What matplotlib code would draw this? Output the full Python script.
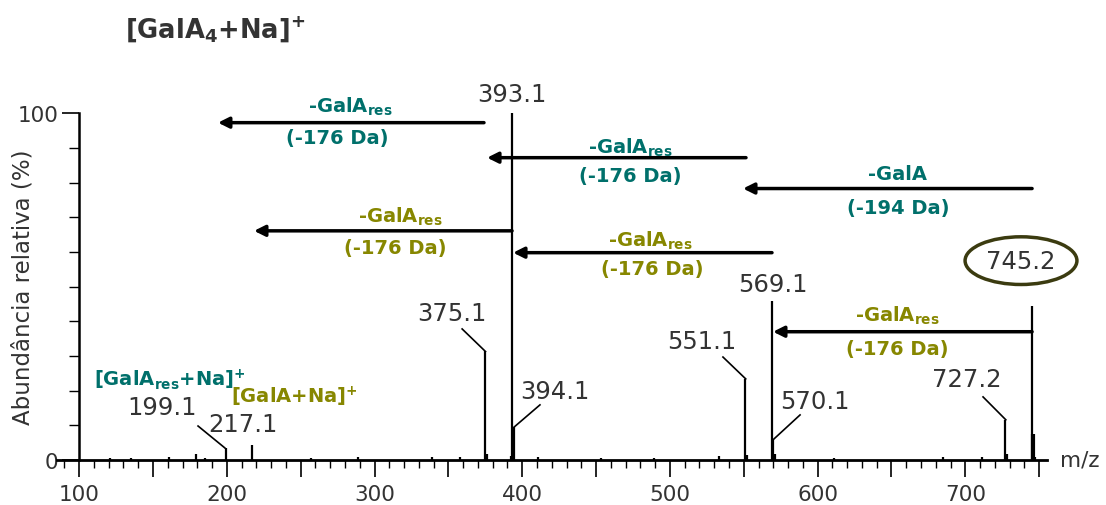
import matplotlib
matplotlib.use("Agg")
import matplotlib.pyplot as plt
from matplotlib.ticker import MultipleLocator, FuncFormatter

plt.rcParams['mathtext.fontset'] = 'dejavusans'

# main peaks (m/z, relative abundance %)
peak_mz = [199.1, 217.1, 375.1, 393.1, 394.1, 551.1, 569.1, 570.1, 727.2, 745.2]
peak_int = [3.5, 4.3, 31.3, 100.0, 9.6, 23.4, 46.0, 6.1, 11.6, 44.5]

# small baseline / isotope peaks
minor_mz = [121, 135, 161, 179, 185, 257, 289, 339, 358, 376.1, 392.1, 411, 453,
            489, 533, 552.1, 571.1, 611, 685, 711, 728.2, 745.6, 747]
minor_int = [0.5, 0.6, 0.8, 1.8, 0.7, 0.6, 0.9, 1.0, 0.9, 1.6, 1.2, 0.8, 0.7,
             0.6, 1.2, 1.4, 1.6, 0.6, 0.9, 1.0, 1.8, 7.5, 1.0]

# labelled peaks: text, label position, leader start (None = no leader), leader end
labels = [
    ("393.1", (393.1, 105.7), None, None),
    ("375.1", (352.5, 42.4), (359.3, 37.8), (375.1, 31.3)),
    ("199.1", (156.1, 15.3), (180.5, 9.8), (198.6, 3.5)),
    ("217.1", (211.0, 10.4), None, None),
    ("394.1", (422.2, 19.9), (412.0, 15.9), (394.5, 9.5)),
    ("551.1", (521.7, 34.4), (535.9, 29.7), (551.3, 23.4)),
    ("569.1", (569.8, 50.8), None, None),
    ("570.1", (598.2, 17.0), (588.1, 13.0), (570.5, 6.1)),
    ("727.2", (701.2, 23.4), (712.0, 18.2), (727.4, 11.6)),
]

# neutral loss arrows: start m/z, end m/z, height, colour, name, loss, name pos, loss pos
teal = "#00706b"
olive = "#878700"
arrows = [
    (374.1, 194.0, 97.3, teal, r"-GalA$_{\mathbf{res}}$", "(-176 Da)", (283.4, 102.2), (274.6, 93.0)),
    (551.5, 376.2, 87.2, teal, r"-GalA$_{\mathbf{res}}$", "(-176 Da)", (473.0, 90.4), (473.0, 82.0)),
    (745.2, 549.5, 78.3, teal, "-GalA", "(-194 Da)", (654.4, 82.6), (654.4, 72.8)),
    (393.1, 218.4, 66.1, olive, r"-GalA$_{\mathbf{res}}$", "(-176 Da)", (317.3, 70.5), (313.9, 61.2)),
    (569.1, 393.8, 59.8, olive, r"-GalA$_{\mathbf{res}}$", "(-176 Da)", (486.5, 63.5), (487.9, 55.2)),
    (745.2, 569.8, 37.0, olive, r"-GalA$_{\mathbf{res}}$", "(-176 Da)", (653.8, 41.9), (653.8, 32.3)),
]

grey = "#333333"

fig = plt.figure(figsize=(11.06, 5.06), dpi=100)
ax = fig.add_axes([57 / 1106, 45 / 506, 990 / 1106, 346.7 / 506])

ax.vlines(minor_mz, 0, minor_int, color="black", lw=1.6)
ax.vlines(peak_mz, 0, peak_int, color="black", lw=1.6)
ax.vlines([745.5], 0, [7.5], color="black", lw=3)

ax.set_xlim(85, 755.3)
ax.set_ylim(0, 100)

for s in ["top", "right"]:
    ax.spines[s].set_visible(False)
ax.spines["left"].set_position(("data", 100))
ax.spines["left"].set_linewidth(1.8)
ax.spines["bottom"].set_linewidth(2.0)

ax.xaxis.set_major_locator(MultipleLocator(50))
ax.xaxis.set_minor_locator(MultipleLocator(10))
ax.xaxis.set_major_formatter(FuncFormatter(lambda v, p: "%d" % v if v % 100 == 0 and v < 750 else ""))
ax.yaxis.set_major_locator(MultipleLocator(100))
ax.yaxis.set_minor_locator(MultipleLocator(10))
ax.tick_params(axis="both", which="major", length=12, width=1.2, labelsize=15.5, labelcolor=grey)
ax.tick_params(axis="x", which="minor", length=6, width=1.0)
ax.tick_params(axis="y", which="minor", length=7, width=1.0)
ax.tick_params(axis="x", which="major", pad=5)
ax.tick_params(axis="y", which="major", pad=3)

for txt, pos, l0, l1 in labels:
    ax.text(pos[0], pos[1], txt, fontsize=17.5, color=grey, ha="center", va="center")
    if l0 is not None:
        ax.plot([l0[0], l1[0]], [l0[1], l1[1]], color="black", lw=1.2)

ax.text(737.7, 57.5, "745.2", fontsize=17.5, color=grey, ha="center", va="center",
        bbox=dict(boxstyle="ellipse,pad=0.2", fc="none", ec="#3b3b10", lw=2.5))

for x0, x1, y, col, name, loss, npos, lpos in arrows:
    ax.annotate("", xy=(x1, y), xytext=(x0, y),
                arrowprops=dict(arrowstyle="-|>", lw=2.5, color="black",
                                mutation_scale=16, shrinkA=0, shrinkB=0))
    ax.text(npos[0], npos[1], name, fontsize=14, fontweight="bold", color=col,
            ha="center", va="center")
    ax.text(lpos[0], lpos[1], loss, fontsize=14, fontweight="bold", color=col,
            ha="center", va="center")

ax.text(161.6, 23.4, r"[GalA$_{\mathbf{res}}$+Na]$^{\mathbf{+}}$", fontsize=14,
        fontweight="bold", color=teal, ha="center", va="center")
ax.text(245.5, 18.5, r"[GalA+Na]$^{\mathbf{+}}$", fontsize=14,
        fontweight="bold", color=olive, ha="center", va="center")

fig.text(23 / 1106, 1 - 287 / 506, "Abundância relativa (%)", rotation=90,
         fontsize=16.5, color=grey, ha="center", va="center")
fig.text(1080 / 1106, 1 - 461 / 506, "m/z", fontsize=15.5, color=grey,
         ha="center", va="center")
fig.text(215 / 1106, 1 - 30 / 506, r"[GalA$_{\mathbf{4}}$+Na]$^{\mathbf{+}}$",
         fontsize=18.5, fontweight="bold", color=grey, ha="center", va="center")

fig.savefig("out.png", dpi=100)
